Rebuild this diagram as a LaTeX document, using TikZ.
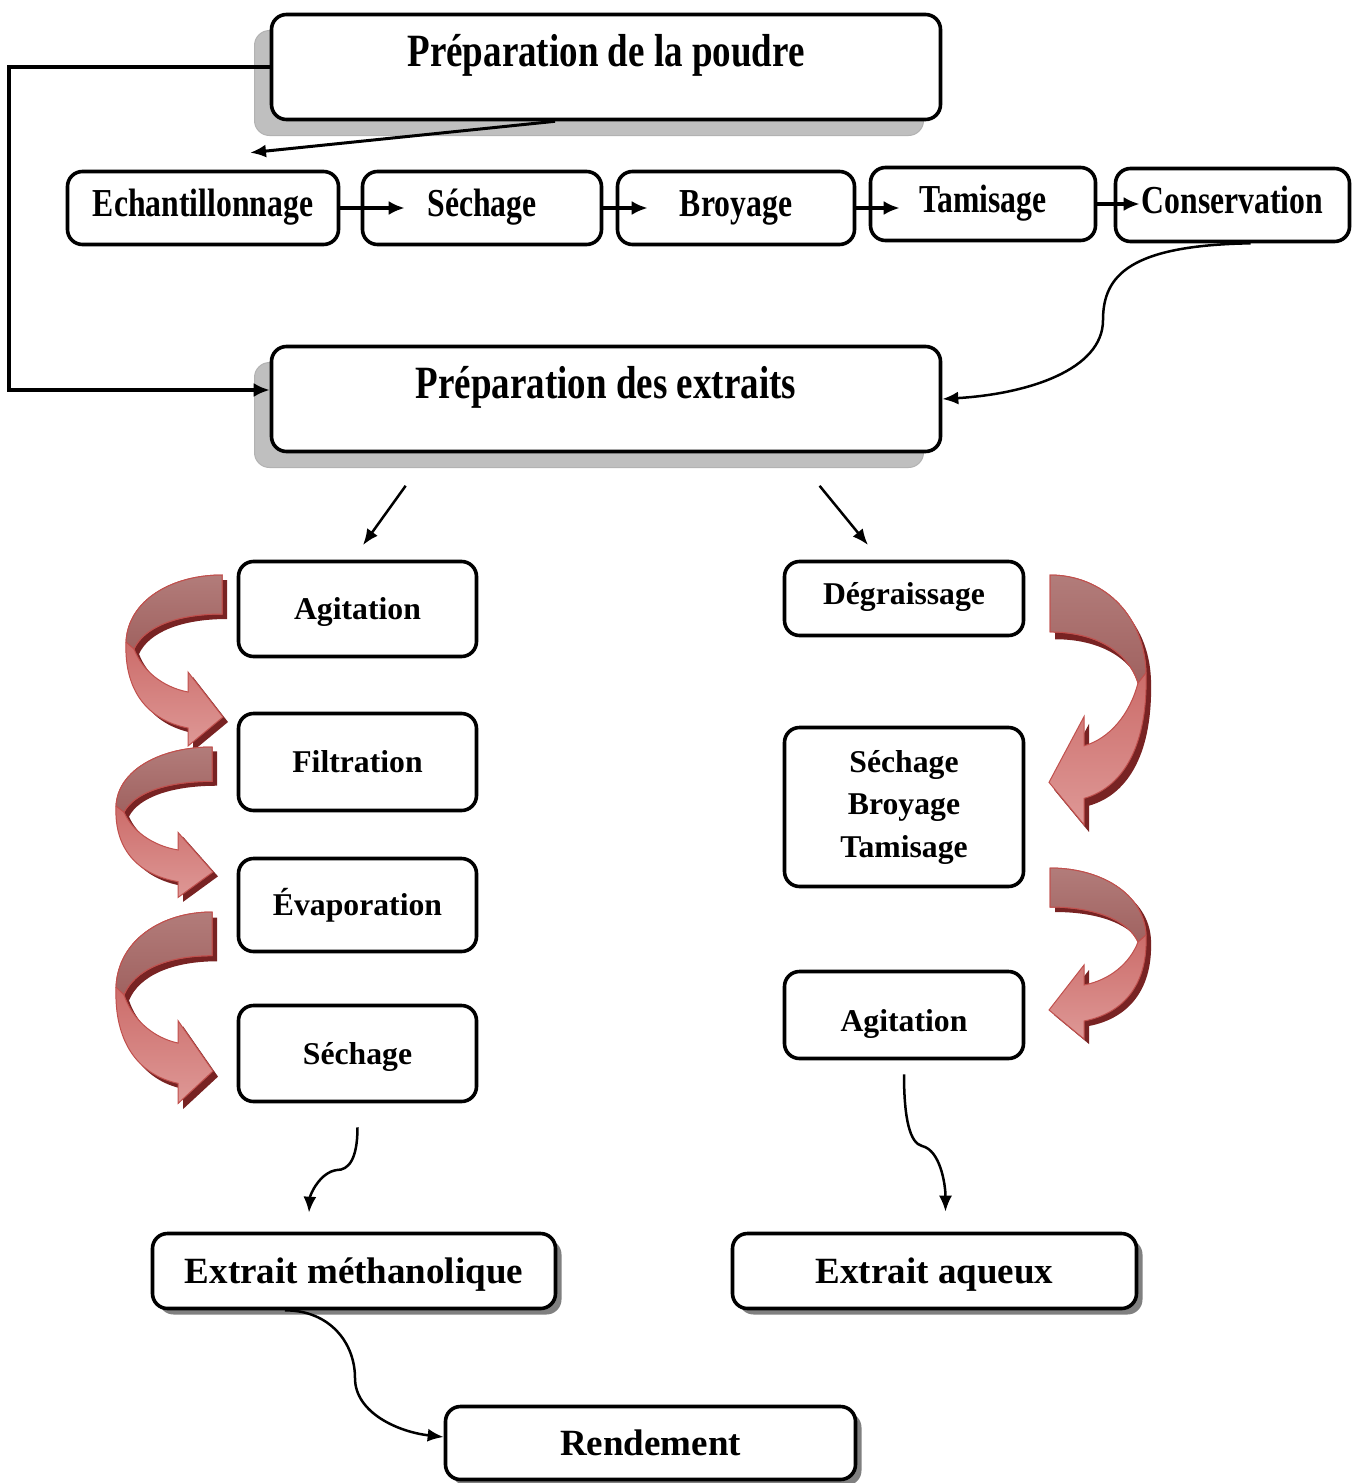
\documentclass[tikz,border=0pt]{standalone}
\usepackage{fontspec}
\setmainfont{Liberation Serif}
\usepackage{graphicx}
\usetikzlibrary{arrows.meta}
\usetikzlibrary{shadows}

\definecolor{rougefonce}{RGB}{192,80,77}
\definecolor{roseclair}{RGB}{222,152,150}
\definecolor{brunclair}{RGB}{178,124,122}
\definecolor{brunfonce}{RGB}{160,98,96}
\definecolor{rougeombre}{RGB}{120,35,35}

\newcommand{\etire}[1]{\scalebox{1}[1.25]{#1}}

\tikzset{
  boite/.style={draw, line width=3.6pt, rounded corners=15pt, fill=white, align=center, inner sep=0pt},
  petit/.style={font=\bfseries\fontsize{31.7}{42.5}\selectfont},
  grand/.style={font=\bfseries\fontsize{37}{44}\selectfont},
  ligne/.style={text height=21pt, text depth=0pt},
  titre/.style={boite, grand, minimum width=669pt, text height=52pt, text depth=53pt,
    drop shadow={shadow xshift=-17pt, shadow yshift=-16pt, fill=black!25, draw=black!30, line width=1pt, opacity=1}},
  etape/.style={boite, petit, text height=44.5pt, text depth=28.5pt},
  colonne/.style={boite, petit, minimum width=238pt},
  resultat/.style={boite, grand, text height=24.5pt, text depth=0pt,
    drop shadow={shadow xshift=6pt, shadow yshift=-6pt, fill=black!50, opacity=1}},
  fleche/.style={-{Latex[length=16pt,width=13pt]}, line width=2.5pt},
  flechegrasse/.style={-{Latex[length=16pt,width=14pt]}, line width=3.6pt},
  pics/flechecourbe/.style={code={
    \fill[rougeombre, shift={(#1,5)}] (0,0) -- (0,39) .. controls (-45,39) and (-78,52) .. (-88,74)
      .. controls (-80,95) and (-60,112) .. (-34,117) -- (-34,97) -- (1,142) -- (-34,171) -- (-34,153)
      .. controls (-75,145) and (-98,115) .. (-96,67) .. controls (-94,25) and (-50,0) .. (0,0) -- cycle;
    \shadedraw[top color=rougefonce, bottom color=roseclair, draw=rougefonce, line width=1pt]
      (0,0) -- (0,39) .. controls (-45,39) and (-78,52) .. (-88,74)
      .. controls (-80,95) and (-60,112) .. (-34,117) -- (-34,97) -- (1,142) -- (-34,171) -- (-34,153)
      .. controls (-75,145) and (-98,115) .. (-96,67) .. controls (-94,25) and (-50,0) .. (0,0) -- cycle;
    \shadedraw[top color=brunclair, bottom color=brunfonce, draw=rougefonce, line width=1pt]
      (0,0) -- (0,39) .. controls (-45,39) and (-78,52) .. (-88,74) -- (-96,67)
      .. controls (-94,25) and (-50,0) .. (0,0) -- cycle;
  }}
}

\begin{document}
\begin{tikzpicture}[x=1pt,y=-1pt]
\useasboundingbox (0,0) rectangle (1362,1483);

%poudre
\node[titre] (poudre) at (606,67) {\etire{Préparation de la poudre}};

\node[etape, minimum width=271pt] (ech) at (203,208) {\etire{Echantillonnage}};
\node[etape, minimum width=239pt] (sech) at (482,208) {\etire{Séchage}};
\node[etape, minimum width=237pt] (broy) at (736,208) {\etire{Broyage}};
\node[etape, minimum width=225pt] (tami) at (983,204) {\etire{Tamisage}};
\node[etape, minimum width=234pt] (cons) at (1232.5,205) {\etire{Conservation}};

\draw[fleche, line width=3pt] ([xshift=-51pt]poudre.south) -- ([xshift=47pt,yshift=17pt]ech.north);
\draw[flechegrasse, shorten >=-44pt] (ech.east) -- (ech.east -| sech.west);
\draw[flechegrasse, shorten >=-32pt] (sech.east) -- (sech.east -| broy.west);
\draw[flechegrasse, shorten >=-31pt] (broy.east) -- (broy.east -| tami.west);
\draw[flechegrasse, shorten >=-26pt] (tami.east) -- (tami.east -| cons.west);

%extraits
\node[titre] (extraits) at (606,399) {\etire{Préparation des extraits}};
\draw[flechegrasse] (poudre.west) -- ++(-261,0) |- ([yshift=9pt]extraits.west);
\draw[fleche] ([xshift=18pt]cons.south) .. controls +(-120,2) and +(0,-45) .. (1103,320)
  .. controls +(0,50) and +(85,-5) .. (extraits.east);

%methanol
\node[colonne, ligne, minimum height=95pt] (agit1) at (357.5,609) {Agitation};
\node[colonne, ligne, minimum height=97pt] (filt) at (357.5,762) {Filtration};
\node[colonne, ligne, minimum height=93pt] (evap) at (357.5,905) {Évaporation};
\node[colonne, ligne, minimum height=96pt] (sech2) at (357.5,1053.5) {Séchage};
\draw[fleche, shorten <=40pt, shorten >=18pt] ([xshift=-177pt]extraits.south) -- ([xshift=-5pt]agit1.north);

\pic at (222,575) {flechecourbe=5};
\pic[yscale=0.88] at (212,747) {flechecourbe=5};
\pic[yscale=1.12] at (212,912) {flechecourbe=5};

%aqueux
\node[colonne, text height=21pt, text depth=9pt, minimum width=239pt, minimum height=74pt] (degr) at (904,598.5) {Dégraissage};
\node[colonne, minimum width=239pt, minimum height=159pt] (sbt) at (904,807) {Séchage\\Broyage\\Tamisage};
\node[colonne, text height=33pt, text depth=0pt, minimum width=239pt, minimum height=87pt] (agit2) at (904,1015) {Agitation};
\draw[fleche, shorten <=42pt, shorten >=19pt] ([xshift=187pt]extraits.south) -- ([xshift=-24pt]degr.north);

\pic[xscale=-1,yscale=1.46] at (1050,575) {flechecourbe=-5};
\pic[xscale=-1] at (1050,868) {flechecourbe=-5};

%resultats
\node[resultat, minimum width=403pt, minimum height=75pt] (extm) at (354,1271) {Extrait méthanolique};
\node[resultat, minimum width=404pt, minimum height=75pt] (extaq) at (934.5,1271) {Extrait aqueux};
\node[resultat, minimum width=410pt, minimum height=73pt] (rend) at (650.5,1443) {Rendement};

\draw[fleche] ([yshift=-24pt]sech2.south) .. controls +(0,33) and +(11,0) .. (337,1170)
  .. controls +(-17,2) and +(1,-18) .. ([xshift=-45pt,yshift=19pt]extm.north);
\draw[fleche] ([yshift=-14pt]agit2.south) .. controls +(0,45) and +(-12,-3) .. (922,1146)
  .. controls +(18,4) and +(0,-28) .. ([xshift=11pt,yshift=20pt]extaq.north);
\draw[fleche] ([xshift=-69pt]extm.south) .. controls +(45,0) and +(0,-35) .. (355,1378)
  .. controls +(0,35) and +(-45,-5) .. ([yshift=6pt]rend.west);

\end{tikzpicture}
\end{document}
